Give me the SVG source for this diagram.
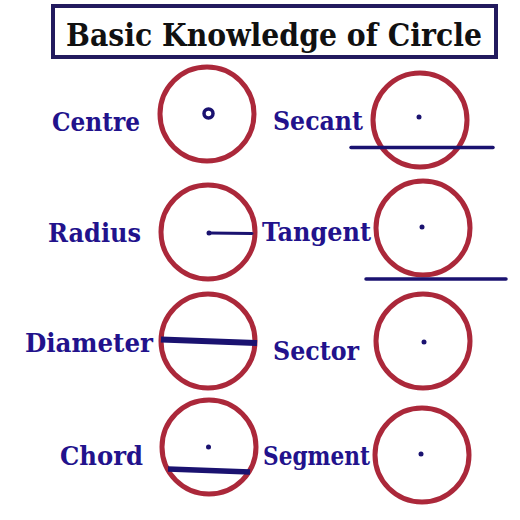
<svg xmlns="http://www.w3.org/2000/svg" width="520" height="520" viewBox="0 0 520 520">
<style>
.lbl{font-family:"DejaVu Serif","Liberation Serif",serif;font-weight:bold;font-size:26px;fill:#22128c}
.title{font-family:"DejaVu Serif","Liberation Serif",serif;font-weight:bold;font-size:31px;fill:#111}
.c{fill:none;stroke:#ab283a;stroke-width:5}
.ln{stroke:#1a1270;stroke-linecap:round}
.dot{fill:#1a1270}
</style>
<rect width="520" height="520" fill="#fff"/>
<g id="title">
<rect x="53" y="6" width="443" height="51" fill="#fff" stroke="#221a5e" stroke-width="4"/>
<text class="title" x="274" y="45.5" text-anchor="middle" textLength="416" lengthAdjust="spacingAndGlyphs">Basic Knowledge of Circle</text>
</g>
<g id="centre">
<text class="lbl" x="52" y="131" textLength="88" lengthAdjust="spacingAndGlyphs">Centre</text>
<circle class="c" cx="207" cy="114" r="47"/>
<circle cx="208.5" cy="113.5" r="4.5" fill="none" stroke="#1a1270" stroke-width="3.5"/>
</g>
<g id="secant">
<text class="lbl" x="273" y="130" textLength="90" lengthAdjust="spacingAndGlyphs">Secant</text>
<circle class="c" cx="420" cy="120" r="47"/>
<circle class="dot" cx="419" cy="117" r="2.5"/>
</g>
<g id="radius">
<text class="lbl" x="48" y="242" textLength="93" lengthAdjust="spacingAndGlyphs">Radius</text>
<circle class="c" cx="208" cy="232" r="47"/>
<circle class="dot" cx="209" cy="233" r="2.5"/>
</g>
<g id="tangent">
<text class="lbl" x="262" y="241" textLength="109" lengthAdjust="spacingAndGlyphs">Tangent</text>
<circle class="c" cx="423" cy="228" r="47"/>
<circle class="dot" cx="422" cy="227" r="2.5"/>
</g>
<g id="diameter">
<text class="lbl" x="25" y="352" textLength="128" lengthAdjust="spacingAndGlyphs">Diameter</text>
<circle class="c" cx="208" cy="341" r="47"/>
</g>
<g id="sector">
<text class="lbl" x="273" y="360" textLength="86" lengthAdjust="spacingAndGlyphs">Sector</text>
<circle class="c" cx="423" cy="341" r="47"/>
<circle class="dot" cx="424" cy="342" r="2.5"/>
</g>
<g id="chord">
<text class="lbl" x="60" y="465" textLength="83" lengthAdjust="spacingAndGlyphs">Chord</text>
<circle class="c" cx="209" cy="447" r="47"/>
<circle class="dot" cx="208.5" cy="447" r="2.5"/>
</g>
<g id="segment">
<text class="lbl" x="263" y="465" textLength="107" lengthAdjust="spacingAndGlyphs">Segment</text>
<circle class="c" cx="422" cy="455" r="47"/>
<circle class="dot" cx="421" cy="454" r="2.5"/>
</g>
<g id="connectors">
<line class="ln" x1="351" y1="147.5" x2="493" y2="147.5" stroke-width="3.5"/>
<line class="ln" x1="209" y1="233" x2="252" y2="233.5" stroke-width="3"/>
<line class="ln" x1="366" y1="279" x2="506" y2="279" stroke-width="3.5"/>
<line x1="161" y1="339.5" x2="257" y2="343" stroke="#1a1270" stroke-width="6"/>
<line x1="168" y1="469" x2="250" y2="472" stroke="#1a1270" stroke-width="5.5"/>
</g>
</svg>
